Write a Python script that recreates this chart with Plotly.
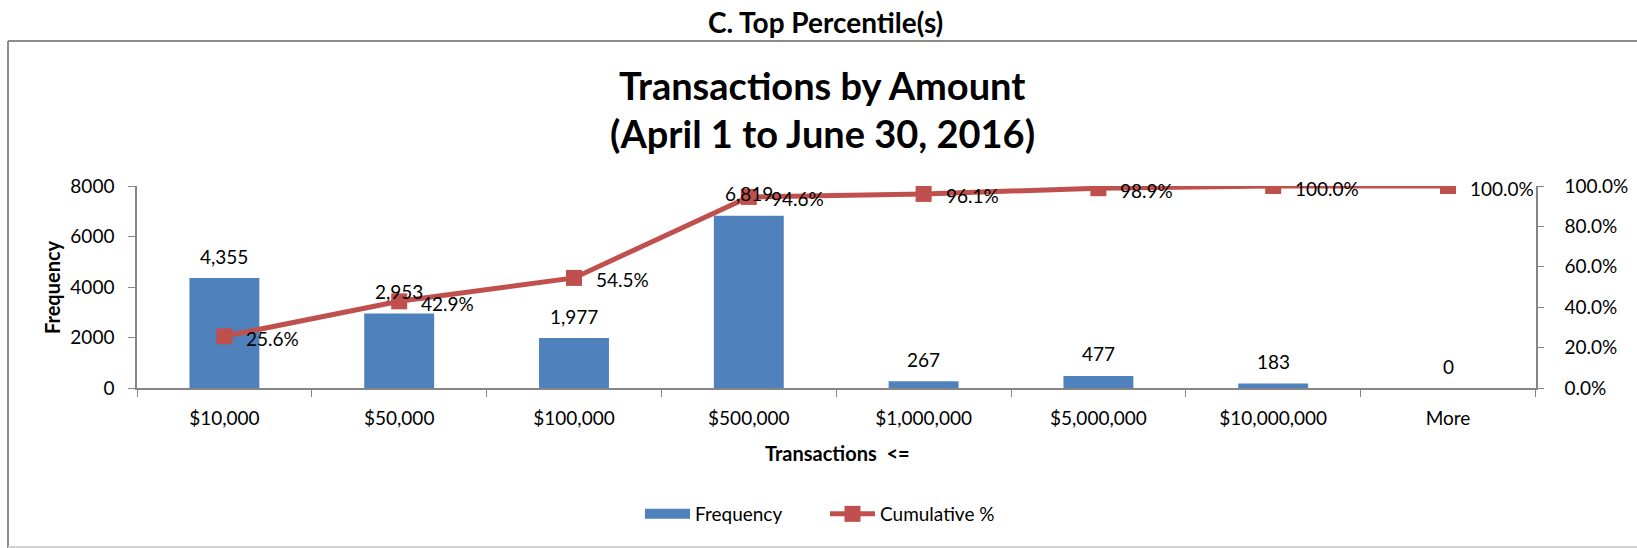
import plotly.graph_objects as go

categories = ["$10,000", "$50,000", "$100,000", "$500,000", "$1,000,000", "$5,000,000", "$10,000,000", "More"]
frequency = [4355, 2953, 1977, 6819, 267, 477, 183, 0]
cumulative_pct = [0.256, 0.429, 0.545, 0.946, 0.961, 0.989, 1.000, 1.000]

W, H = 1637, 548
L, R, T, B = 137, 1536, 186, 388
pw, ph = R - L, B - T

def px(x):
    return (x - L) / pw

def py(y):
    return (B - y) / ph

FONT = "Lato"
BAR = "#4F81BD"
LINE = "#C0504D"
AX = "#868686"
FS = 19

fig = go.Figure()
fig.add_trace(go.Bar(x=categories, y=frequency, name="Frequency", marker=dict(color=BAR, line=dict(width=0)),
                     width=0.4, yaxis="y", showlegend=False))
# legend swatch for the bars (wide rectangle, as in the original)
fig.add_trace(go.Scatter(x=[None], y=[None], name="Frequency", mode="lines",
                         line=dict(color=BAR, width=13), yaxis="y", showlegend=True))
fig.add_trace(go.Scatter(x=categories, y=cumulative_pct, name="Cumulative %", mode="lines+markers",
                         line=dict(color=LINE, width=5),
                         marker=dict(symbol="square", size=16, color=LINE), yaxis="y2"))

ann = []
for c, v in zip(categories, frequency):
    ann.append(dict(x=c, y=v, xref="x", yref="y", text=f"{v:,}", showarrow=False, yshift=22,
                    xanchor="center", yanchor="middle",
                    font=dict(family=FONT, size=FS, color="#000")))
for c, v in zip(categories, cumulative_pct):
    ann.append(dict(x=c, y=v, xref="x", yref="y2", text=f"{v*100:.1f}%", showarrow=False, xanchor="left",
                    yanchor="middle", xshift=20, yshift=-2, font=dict(family=FONT, size=FS, color="#000")))

def tann(x, y, text, size, angle=0):
    return dict(x=px(x), y=py(y), xref="paper", yref="paper", text=text, showarrow=False,
                xanchor="center", yanchor="middle", textangle=angle,
                font=dict(family=FONT, size=size, color="#000"))

ann.append(tann(825, 22, "<b>C. Top Percentile(s)</b>", 28))
ann.append(tann(822, 85, "<b>Transactions by Amount</b>", 38))
ann.append(tann(822, 133, "<b>(April 1 to June 30, 2016)</b>", 38))
ann.append(tann(52, 287, "<b>Frequency</b>", 20, -90))
ann.append(tann(837, 453, "<b>Transactions\u00a0\u00a0<=</b>", 20))

shapes = [
    dict(type="line", xref="paper", yref="paper", x0=px(8), x1=px(1640), y0=py(41), y1=py(41),
         line=dict(color="#8c8c8c", width=2)),
    dict(type="line", xref="paper", yref="paper", x0=px(8), x1=px(8), y0=py(41), y1=py(548),
         line=dict(color="#8c8c8c", width=2)),
    dict(type="line", xref="paper", yref="paper", x0=px(8), x1=px(1640), y0=py(547), y1=py(547),
         line=dict(color="#d0d0d0", width=2)),
]

fig.update_layout(
    width=W, height=H,
    margin=dict(l=L, r=W - R, t=T, b=H - B, autoexpand=False),
    paper_bgcolor="white", plot_bgcolor="white",
    font=dict(family=FONT, size=FS, color="#000"),
    showlegend=True,
    legend=dict(orientation="h", x=px(825), xanchor="center", y=py(514), yanchor="middle",
                font=dict(family=FONT, size=FS), traceorder="normal", itemwidth=45,
                entrywidth=125),
    annotations=ann, shapes=shapes,
    xaxis=dict(type="category", showline=True, linecolor=AX, linewidth=1.5, ticks="outside",
               tickson="boundaries", ticklen=7, tickcolor=AX, showgrid=False, zeroline=False,
               tickfont=dict(family=FONT, size=FS), ticklabelstandoff=12),
    yaxis=dict(range=[0, 8000], tickvals=[0, 2000, 4000, 6000, 8000], showline=True, linecolor=AX,
               linewidth=1.5, ticks="outside", ticklen=7, tickcolor=AX, showgrid=False, zeroline=False,
               tickfont=dict(family=FONT, size=FS), ticklabelstandoff=10),
    yaxis2=dict(range=[0, 1], overlaying="y", side="right", tickvals=[0, 0.2, 0.4, 0.6, 0.8, 1.0],
                tickformat=".1%", showline=True, linecolor=AX, linewidth=1.5, ticks="outside",
                ticklen=6, tickcolor=AX, showgrid=False, zeroline=False,
                tickfont=dict(family=FONT, size=FS), ticklabelstandoff=17),
)

fig.write_html("out.html", config={"displayModeBar": False},
               post_script="document.body.style.margin='0';document.body.style.overflow='hidden';")
